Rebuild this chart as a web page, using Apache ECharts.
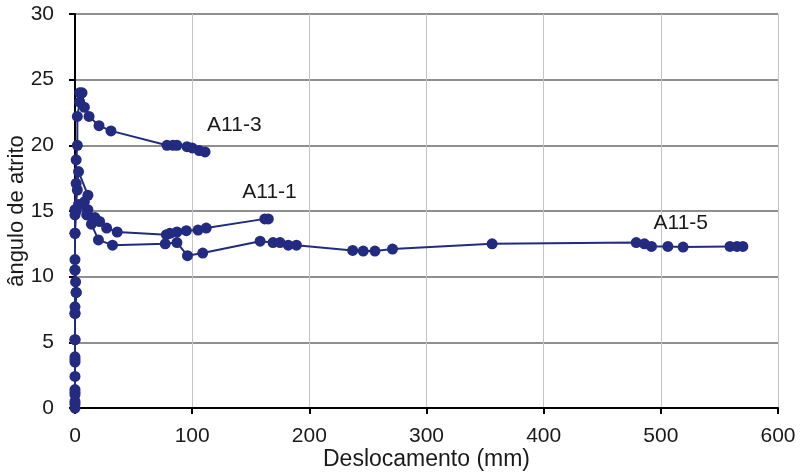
<!DOCTYPE html>
<html>
<head>
<meta charset="utf-8">
<script src="https://cdn.jsdelivr.net/npm/echarts@6/dist/echarts.min.js"></script>
<style>
  html, body { margin: 0; padding: 0; background: #fff; }
  #chart { width: 801px; height: 475px; }
</style>
</head>
<body>
<div id="chart"></div>
<script>
// ensaios: deslocamento (mm) x angulo de atrito (graus)
var serieA113 = [
  [0, 0.5], [0, 1.2], [0, 2.4], [0, 3.9], [0, 5.2], [0, 7.2], [1, 8.8], [0, 10.5],
  [0, 13.3], [0, 15.1], [1, 17.1], [1, 18.9], [2, 20], [2, 22.2], [4, 23.3],
  [4, 24], [6, 24], [8, 22.9], [12, 22.2], [20.5, 21.5], [30.7, 21.1],
  [78.5, 20], [83.6, 20], [87, 20], [95.6, 19.9], [100, 19.8], [106, 19.6], [111, 19.5]
];
var serieA111 = [
  [0, 0.3], [0, 1], [0, 3.5], [0, 7.7], [0.5, 9.6], [0, 11.3], [0, 14.7],
  [2, 16.6], [3, 18], [11, 16.2], [8, 15.7], [11, 15.1], [17, 14.5], [21, 14.2],
  [27, 13.7], [36, 13.4], [78, 13.2], [81, 13.3], [87, 13.4], [95, 13.5],
  [105, 13.55], [112, 13.7], [162, 14.4], [165, 14.4]
];
var serieA115 = [
  [0, 0], [0, 1.4], [0, 3.7], [0, 5.2], [0, 7.2], [1, 8.8], [0, 10.5], [0, 13.3],
  [1, 15], [3, 15.5], [10, 14.7], [14, 14], [20, 12.8], [32, 12.4], [77, 12.5],
  [87, 12.6], [96, 11.6], [109, 11.8], [158, 12.7], [169, 12.6], [175, 12.6],
  [182, 12.4], [189, 12.4], [237, 12.0], [246, 11.95], [256, 11.95], [271, 12.1],
  [356, 12.5], [479, 12.6], [486, 12.5], [492, 12.3], [506, 12.3], [519, 12.25],
  [559, 12.3], [565, 12.3], [570, 12.3]
];
// posicao dos rotulos de cada curva
var rotulos = [
  { nome: 'A11-3', coord: [136, 21.5] },
  { nome: 'A11-1', coord: [166, 16.4] },
  { nome: 'A11-5', coord: [517, 14.1] }
];
var xTicks = [0, 600, 100];
var yTicks = [0, 30, 5];

var cor = '#232B80';
var fonte = 'Liberation Sans, Arial, sans-serif';

function serie(nome, dados, rot) {
  return {
    name: nome,
    type: 'line',
    data: dados,
    symbol: 'circle',
    symbolSize: 11,
    lineStyle: { color: cor, width: 2 },
    itemStyle: { color: cor },
    animation: false,
    markPoint: {
      symbol: 'circle',
      symbolSize: 0,
      data: [{ coord: rot.coord }],
      label: {
        show: true,
        formatter: rot.nome,
        color: '#1a1a1a',
        fontSize: 21,
        fontFamily: fonte,
        position: 'inside'
      }
    }
  };
}

var chart = echarts.init(document.getElementById('chart'));
chart.setOption({
  backgroundColor: '#fff',
  animation: false,
  grid: { left: 75, right: 23, top: 14, bottom: 67, containLabel: false, outerBoundsMode: 'none' },
  xAxis: {
    type: 'value',
    min: xTicks[0], max: xTicks[1], interval: xTicks[2],
    name: 'Deslocamento (mm)',
    nameLocation: 'middle',
    nameGap: 40,
    nameMoveOverlap: false,
    nameTextStyle: { fontSize: 23, color: '#1a1a1a', fontFamily: fonte },
    axisLine: { lineStyle: { color: '#000', width: 2 } },
    axisTick: { show: true, inside: false, length: 6, lineStyle: { color: '#000', width: 2 } },
    axisLabel: { fontSize: 21, color: '#1a1a1a', fontFamily: fonte, margin: 18 },
    splitLine: { show: true, lineStyle: { color: '#c4c4c4', width: 1 } }
  },
  yAxis: {
    type: 'value',
    min: yTicks[0], max: yTicks[1], interval: yTicks[2],
    name: 'ângulo de atrito',
    nameLocation: 'middle',
    nameGap: 47,
    nameMoveOverlap: false,
    nameTextStyle: { fontSize: 22, color: '#1a1a1a', fontFamily: fonte },
    axisLine: { show: true, lineStyle: { color: '#000', width: 2 } },
    axisTick: { show: true, inside: false, length: 6, lineStyle: { color: '#000', width: 2 } },
    axisLabel: { fontSize: 21, color: '#1a1a1a', fontFamily: fonte, margin: 21 },
    splitLine: { show: true, lineStyle: { color: '#6a6a6a', width: 1.5 } }
  },
  series: [
    serie('A11-3', serieA113, rotulos[0]),
    serie('A11-1', serieA111, rotulos[1]),
    serie('A11-5', serieA115, rotulos[2])
  ]
});
</script>
</body>
</html>
